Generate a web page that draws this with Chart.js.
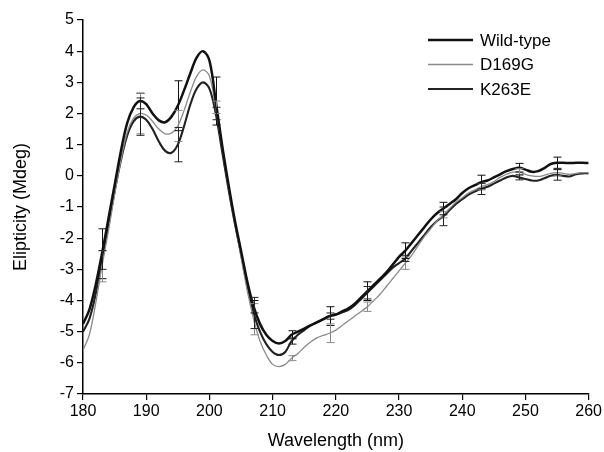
<!DOCTYPE html>
<html>
<head>
<meta charset="utf-8">
<script src="https://cdn.jsdelivr.net/npm/chart.js@4"></script>
<style>
  html, body { margin: 0; padding: 0; background: #fff; }
  #wrap { width: 604px; height: 452px; }
</style>
</head>
<body>
<div id="wrap"><canvas id="cd"></canvas></div>
<script>
// wavelengths (nm)
var wavelength = [
  180,181,182,183,184,185,186,187,188,189,190,191,192,193,194,195,196,197,198,199,
  200,201,202,203,204,205,206,207,208,209,210,211,212,213,214,215,216,217,218,219,
  220,221,222,223,224,225,226,227,228,229,230,231,232,233,234,235,236,237,238,239,
  240,241,242,243,244,245,246,247,248,249,250,251,252,253,254,255,256,257,258,259,260
];

var wildType = [
  -4.75,-4.3,-3.5,-2.5,-1.4,-0.3,0.8,1.7,2.2,2.4,2.3,2.0,1.78,1.72,1.9,2.25,2.75,3.3,3.8,4.0,
  3.7,2.4,1.0,-0.25,-1.4,-2.4,-3.4,-4.2,-4.75,-5.1,-5.3,-5.38,-5.3,-5.1,-5.0,-4.9,-4.8,-4.7,-4.6,-4.5,
  -4.45,-4.35,-4.25,-4.1,-3.9,-3.7,-3.5,-3.3,-3.1,-2.85,-2.6,-2.4,-2.15,-1.9,-1.65,-1.4,-1.2,-1.05,-0.9,-0.75,
  -0.55,-0.4,-0.3,-0.2,-0.15,-0.05,0.05,0.15,0.22,0.26,0.2,0.13,0.15,0.25,0.38,0.42,0.42,0.41,0.42,0.42,0.41
];

var d169g = [
  -5.6,-5.1,-4.1,-2.9,-1.8,-0.6,0.5,1.4,1.85,2.0,1.95,1.75,1.5,1.35,1.37,1.6,2.1,2.7,3.2,3.4,
  3.2,2.2,0.9,-0.35,-1.5,-2.6,-3.7,-4.6,-5.3,-5.75,-6.05,-6.12,-6.05,-5.85,-5.7,-5.5,-5.33,-5.2,-5.12,-5.05,
  -4.95,-4.8,-4.65,-4.5,-4.35,-4.2,-4.0,-3.8,-3.55,-3.3,-3.05,-2.8,-2.55,-2.25,-1.95,-1.7,-1.45,-1.25,-1.05,-0.85,
  -0.7,-0.55,-0.45,-0.35,-0.28,-0.18,-0.05,0.05,0.12,0.13,0.05,0.0,-0.02,0.02,0.08,0.1,0.08,0.05,0.08,0.1,0.1
];

var k263e = [
  -5.0,-4.6,-3.8,-2.7,-1.6,-0.5,0.5,1.3,1.75,1.9,1.8,1.5,1.1,0.8,0.74,1.0,1.6,2.3,2.8,3.0,
  2.8,2.0,0.8,-0.4,-1.5,-2.5,-3.5,-4.4,-5.0,-5.4,-5.65,-5.75,-5.65,-5.3,-5.1,-4.95,-4.8,-4.7,-4.6,-4.5,
  -4.45,-4.38,-4.3,-4.15,-3.95,-3.75,-3.55,-3.35,-3.15,-2.95,-2.8,-2.65,-2.4,-2.15,-1.9,-1.65,-1.45,-1.3,-1.1,-0.9,
  -0.75,-0.6,-0.5,-0.42,-0.35,-0.25,-0.15,-0.05,0.0,-0.05,-0.1,-0.15,-0.15,-0.08,0.0,0.03,0.0,-0.02,0.05,0.08,0.08
];

// error bars (± Mdeg) at these wavelengths
var errWavelength = [183,189,195,201,207,213,219,225,231,237,243,249,255];
var errWildType = [0.8,0.25,0.8,0.77,0.2,0.13,0.3,0.3,0.25,0.2,0.22,0.14,0.18];
var errD169g    = [0.5,0.65,0.5,0.2,0.5,0.08,0.3,0.15,0.2,0.1,0.1,0.1,0.1];
var errK263e    = [0.3,0.6,0.55,0.2,0.5,0.1,0.1,0.2,0.1,0.3,0.18,0.08,0.17];

var seriesLabels = ['Wild-type', 'D169G', 'K263E'];
var seriesColors = ['#111111', '#8a8a8a', '#222222'];
var seriesWidths = [2.5, 1.3, 2.1];

var FONT = 'Liberation Sans, Arial, sans-serif';

function points(vals) {
    return wavelength.map(function(w, i) { return { x: w, y: vals[i] }; });
}

var errorBars = {
    id: 'errorBars',
    afterDatasetsDraw: function(chart) {
        var ctx = chart.ctx;
        var xs = chart.scales.x, ys = chart.scales.y;
        var errs = [errWildType, errD169g, errK263e];
        chart.data.datasets.forEach(function(ds, i) {
            ctx.save();
            ctx.strokeStyle = seriesColors[i];
            ctx.lineWidth = 1;
            errWavelength.forEach(function(w, k) {
                var v = ds.data[wavelength.indexOf(w)].y;
                var px = Math.round(xs.getPixelForValue(w)) + 0.5;
                var top = ys.getPixelForValue(v + errs[i][k]);
                var bot = ys.getPixelForValue(v - errs[i][k]);
                ctx.beginPath();
                ctx.moveTo(px, top); ctx.lineTo(px, bot);
                ctx.moveTo(px - 4, top); ctx.lineTo(px + 4, top);
                ctx.moveTo(px - 4, bot); ctx.lineTo(px + 4, bot);
                ctx.stroke();
            });
            ctx.restore();
        });
    }
};

var insideLegend = {
    id: 'insideLegend',
    afterDraw: function(chart) {
        var ctx = chart.ctx;
        ctx.save();
        ctx.font = '17px ' + FONT;
        ctx.textBaseline = 'middle';
        seriesLabels.forEach(function(lab, i) {
            var y = 40 + i * 24.5;
            ctx.strokeStyle = seriesColors[i];
            ctx.lineWidth = seriesWidths[i];
            ctx.beginPath();
            ctx.moveTo(428, y); ctx.lineTo(473, y);
            ctx.stroke();
            ctx.fillStyle = '#000';
            ctx.fillText(lab, 480, y + 1);
        });
        ctx.restore();
    }
};

var config = {
    type: 'line',
    data: {
        datasets: seriesLabels.map(function(lab, i) {
            return {
                label: lab,
                data: points([wildType, d169g, k263e][i]),
                borderColor: seriesColors[i],
                borderWidth: seriesWidths[i],
                pointRadius: 0,
                tension: 0.35,
                fill: false
            };
        })
    },
    options: {
        responsive: true,
        maintainAspectRatio: false,
        animation: false,
        layout: { padding: { left: 0, right: 14, top: 20, bottom: 0 } },
        plugins: {
            legend: { display: false },
            tooltip: { enabled: false }
        },
        scales: {
            x: {
                type: 'linear',
                min: 180,
                max: 260,
                afterFit: function(s) { s.height = 58; },
                ticks: { stepSize: 10, color: '#000', font: { family: FONT, size: 16 }, padding: 2, maxRotation: 0 },
                grid: { display: true, drawOnChartArea: false, drawTicks: true, tickLength: 6, color: '#000', lineWidth: 1.2 },
                border: { display: true, color: '#000', width: 1.5 },
                title: { display: true, text: 'Wavelength (nm)', color: '#000', font: { family: FONT, size: 18 }, padding: { top: 6, bottom: 0 } }
            },
            y: {
                min: -7,
                max: 5,
                afterFit: function(s) { s.width = 83; },
                ticks: { stepSize: 1, color: '#000', font: { family: FONT, size: 16 }, padding: 3 },
                grid: { display: true, drawOnChartArea: false, drawTicks: true, tickLength: 6, color: '#000', lineWidth: 1.2 },
                border: { display: true, color: '#000', width: 1.5 },
                title: { display: true, text: 'Elipticity (Mdeg)', color: '#000', font: { family: FONT, size: 18 }, padding: { top: 10, bottom: 4 } }
            }
        }
    },
    plugins: [errorBars, insideLegend]
};

window.onload = function() {
    var cd = document.getElementById('cd').getContext('2d');
    window.cdChart = new Chart(cd, config);
};
</script>
</body>
</html>
